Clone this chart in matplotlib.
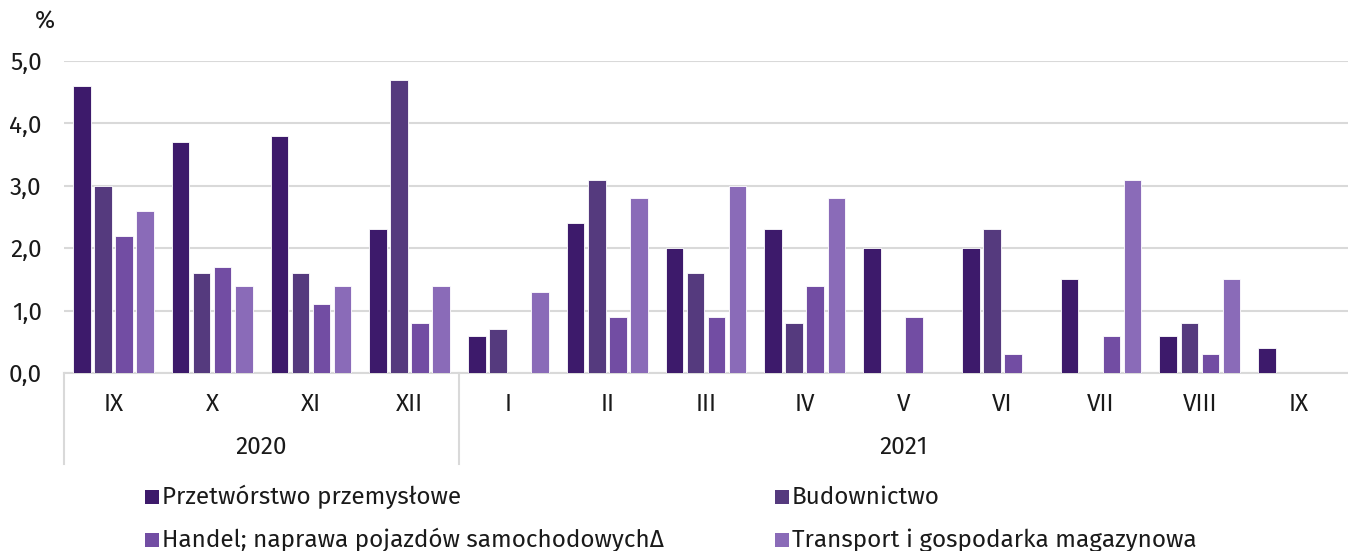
import matplotlib
matplotlib.use("Agg")
import matplotlib.pyplot as plt
from matplotlib import font_manager
from matplotlib.patches import Rectangle
import numpy as np

names = {f.name for f in font_manager.fontManager.ttflist}
fam = [n for n in ["Fira Sans", "Open Sans", "Noto Sans", "DejaVu Sans"] if n in names]
plt.rcParams['font.family'] = fam

months = ["IX", "X", "XI", "XII", "I", "II", "III", "IV", "V", "VI", "VII", "VIII", "IX"]
years = ["2020", "2021"]
series_names = ["Przetwórstwo przemysłowe", "Budownictwo",
                "Handel; naprawa pojazdów samochodowychΔ", "Transport i gospodarka magazynowa"]
przetworstwo = [4.6, 3.7, 3.8, 2.3, 0.6, 2.4, 2.0, 2.3, 2.0, 2.0, 1.5, 0.6, 0.4]
budownictwo = [3.0, 1.6, 1.6, 4.7, 0.7, 3.1, 1.6, 0.8, 0.0, 2.3, 0.0, 0.8, 0.0]
handel = [2.2, 1.7, 1.1, 0.8, 0.0, 0.9, 0.9, 1.4, 0.9, 0.3, 0.6, 0.3, 0.0]
transport = [2.6, 1.4, 1.4, 1.4, 1.3, 2.8, 3.0, 2.8, 0.0, 0.0, 3.1, 1.5, 0.0]
colors = ["#3d1a6b", "#553a7e", "#724da3", "#8a6bb8"]

W, H = 1348, 551
FS = 17.5
TC = "#1a1a1a"
fig = plt.figure(figsize=(W/100, H/100), dpi=100)
ax = fig.add_axes([64/W, (H-373)/H, (W-64)/W, (373-61)/H])

x = np.arange(len(months))
step = 0.213
bw = 0.178
data = [przetworstwo, budownictwo, handel, transport]
for i, (vals, c, nm) in enumerate(zip(data, colors, series_names)):
    ax.bar(x + (i-1.5)*step, vals, width=bw, color=c, edgecolor="white", linewidth=0.6, label=nm, zorder=3)

ax.set_xlim(-0.5, len(months)-0.5)
ax.set_ylim(0, 5)
ax.set_yticks(np.arange(0, 5.01, 1))
ax.set_yticklabels([f"{v:.1f}".replace(".", ",") for v in np.arange(0, 5.01, 1)], fontsize=FS, color=TC)
ax.yaxis.grid(True, color="#d9d9d9", linewidth=1.5, zorder=0)
ax.set_axisbelow(True)
for s in ["top", "right", "left"]:
    ax.spines[s].set_visible(False)
ax.spines["bottom"].set_color("#d9d9d9")
ax.spines["bottom"].set_linewidth(1.5)
ax.tick_params(axis="both", length=0)
ax.tick_params(axis="y", pad=16)
ax.set_xticks([])

ppu = (373-61)/5.0
def dy(px):
    return -(px-373)/ppu

for xi, m in zip(x, months):
    ax.text(xi, dy(404), m, ha="center", va="center", fontsize=FS, color=TC, clip_on=False)
ax.text(1.5, dy(447), years[0], ha="center", va="center", fontsize=FS, color=TC, clip_on=False)
ax.text(8.0, dy(447), years[1], ha="center", va="center", fontsize=FS, color=TC, clip_on=False)
for xs in [-0.5, 3.5]:
    ax.plot([xs, xs], [0, dy(464)], color="#d9d9d9", linewidth=1.5, clip_on=False)

fig.text(45/W, 1-22/H, "%", ha="center", va="center", fontsize=FS, color=TC)

# manual legend, row-major: [0,1] on first row, [2,3] on second
leg_x = [145, 775]
leg_y = [497, 540]
sq = 14
for k, (nm, c) in enumerate(zip(series_names, colors)):
    col, row = k % 2, k // 2
    px, py = leg_x[col], leg_y[row]
    fig.patches.append(Rectangle((px/W, 1-(py+sq/2)/H), sq/W, sq/H, transform=fig.transFigure,
                                 facecolor=c, edgecolor="none"))
    fig.text((px+sq+3)/W, 1-py/H, nm, ha="left", va="center", fontsize=FS, color=TC)

fig.savefig("out.png", dpi=100)
